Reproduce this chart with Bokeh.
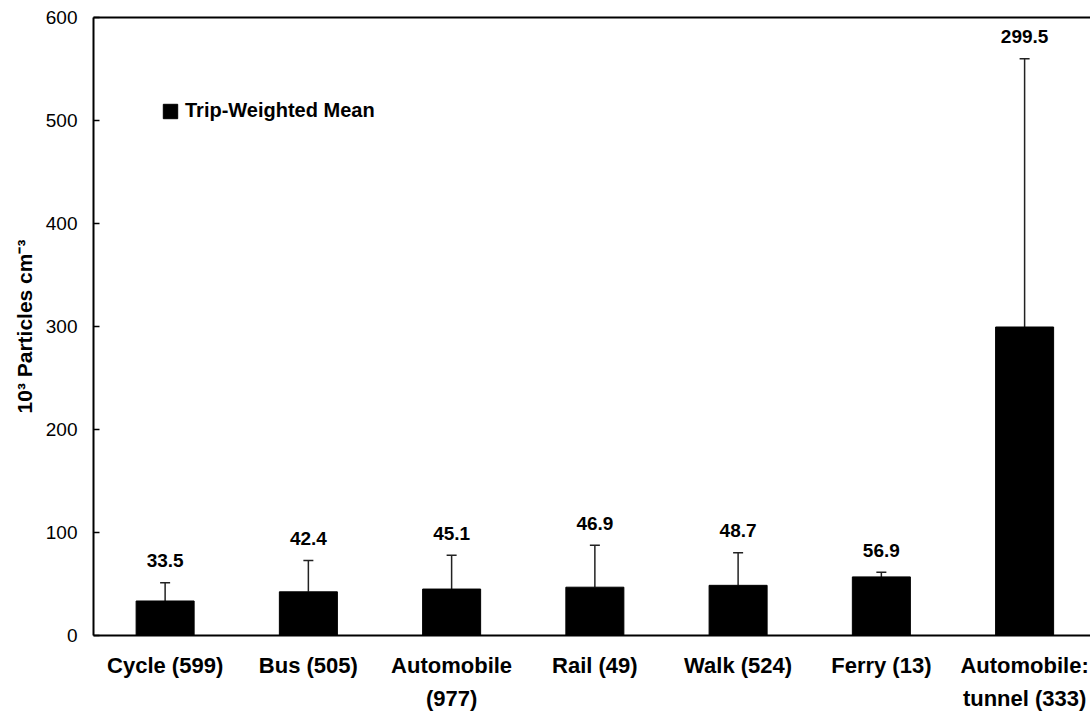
import numpy as np
from bokeh.plotting import figure
from bokeh.models import (ColumnDataSource, Range1d, FixedTicker, LinearAxis,
                          Whisker, TeeHead, Legend, LegendItem)
from bokeh.core.properties import value
from bokeh.embed import file_html
from bokeh.resources import INLINE

# ---- data ----
categories = ["Cycle (599)", "Bus (505)", "Automobile\n(977)", "Rail (49)",
              "Walk (524)", "Ferry (13)", "Automobile:\ntunnel (333)"]
means = [33.5, 42.4, 45.1, 46.9, 48.7, 56.9, 299.5]
upper = [51.2, 72.8, 78.0, 87.7, 80.3, 61.5, 560.0]
y_ticks = [0, 100, 200, 300, 400, 500, 600]
series_name = "Trip-Weighted Mean"
y_title = "10\u00b3 Particles cm\u207b\u00b3"

FONT = "Liberation Sans"

p = figure(width=1090, height=713,
           x_range=Range1d(0, 6.96), y_range=Range1d(0, 600),
           output_backend="svg", toolbar_location=None,
           min_border_left=93, min_border_right=0,
           min_border_top=17, min_border_bottom=78,
           outline_line_color=None)
p.xgrid.visible = False
p.ygrid.visible = False

x = np.arange(len(categories)) + 0.5
src = ColumnDataSource(dict(x=x, top=means, upper=upper,
                            label=[f"{m:.1f}" for m in means]))

whisker = Whisker(base="x", upper="upper", lower="top", source=src,
                  line_color="#222222", line_width=1.5,
                  upper_head=TeeHead(size=10, line_color="#222222", line_width=1.5),
                  lower_head=None)
p.add_layout(whisker)

bars = p.vbar(x="x", top="top", bottom=0, width=0.405, source=src,
              fill_color="black", line_color="black")

p.text(x="x", y="upper", text="label", source=src, y_offset=-22,
       text_align="center", text_baseline="middle",
       text_font=value(FONT), text_font_style="bold",
       text_font_size="19px", text_color="black")

# x axis
xa = p.xaxis[0]
xa.ticker = FixedTicker(ticks=list(x))
xa.major_label_overrides = {float(xi): c for xi, c in zip(x, categories)}
xa.major_tick_line_color = None
xa.minor_tick_line_color = None
xa.axis_line_color = "black"
xa.axis_line_width = 2
xa.major_label_standoff = 11
xa.major_label_text_font = FONT
xa.major_label_text_font_style = "bold"
xa.major_label_text_font_size = "22px"
xa.major_label_text_color = "black"
xa.major_label_text_line_height = 1.33

# y axis
ya = p.yaxis[0]
ya.ticker = FixedTicker(ticks=y_ticks)
ya.major_tick_in = 6
ya.major_tick_out = 0
ya.minor_tick_line_color = None
ya.axis_line_color = "black"
ya.axis_line_width = 2
ya.major_tick_line_width = 1.5
ya.major_label_standoff = 16
ya.major_label_text_font = FONT
ya.major_label_text_font_size = "19px"
ya.major_label_text_color = "black"
ya.axis_label = y_title
ya.axis_label_text_font = FONT
ya.axis_label_text_font_style = "bold"
ya.axis_label_text_font_size = "21px"
ya.axis_label_text_color = "black"
ya.axis_label_standoff = 7

# top frame line
top_axis = LinearAxis(ticker=FixedTicker(ticks=[]), major_tick_in=0, major_tick_out=0,
                      minor_tick_line_color=None, major_label_text_font_size="0px",
                      major_label_standoff=0, axis_line_color="black", axis_line_width=2)
p.add_layout(top_axis, "above")

legend = Legend(items=[LegendItem(label=series_name, renderers=[bars])],
                location=(68, 513), glyph_width=18, glyph_height=18,
                label_standoff=6, padding=0, spacing=0, margin=0,
                border_line_color=None, background_fill_alpha=0,
                label_text_font=FONT, label_text_font_style="bold",
                label_text_font_size="20px", label_text_color="black")
p.add_layout(legend)

open("out.html", "w").write(file_html(p, INLINE))
